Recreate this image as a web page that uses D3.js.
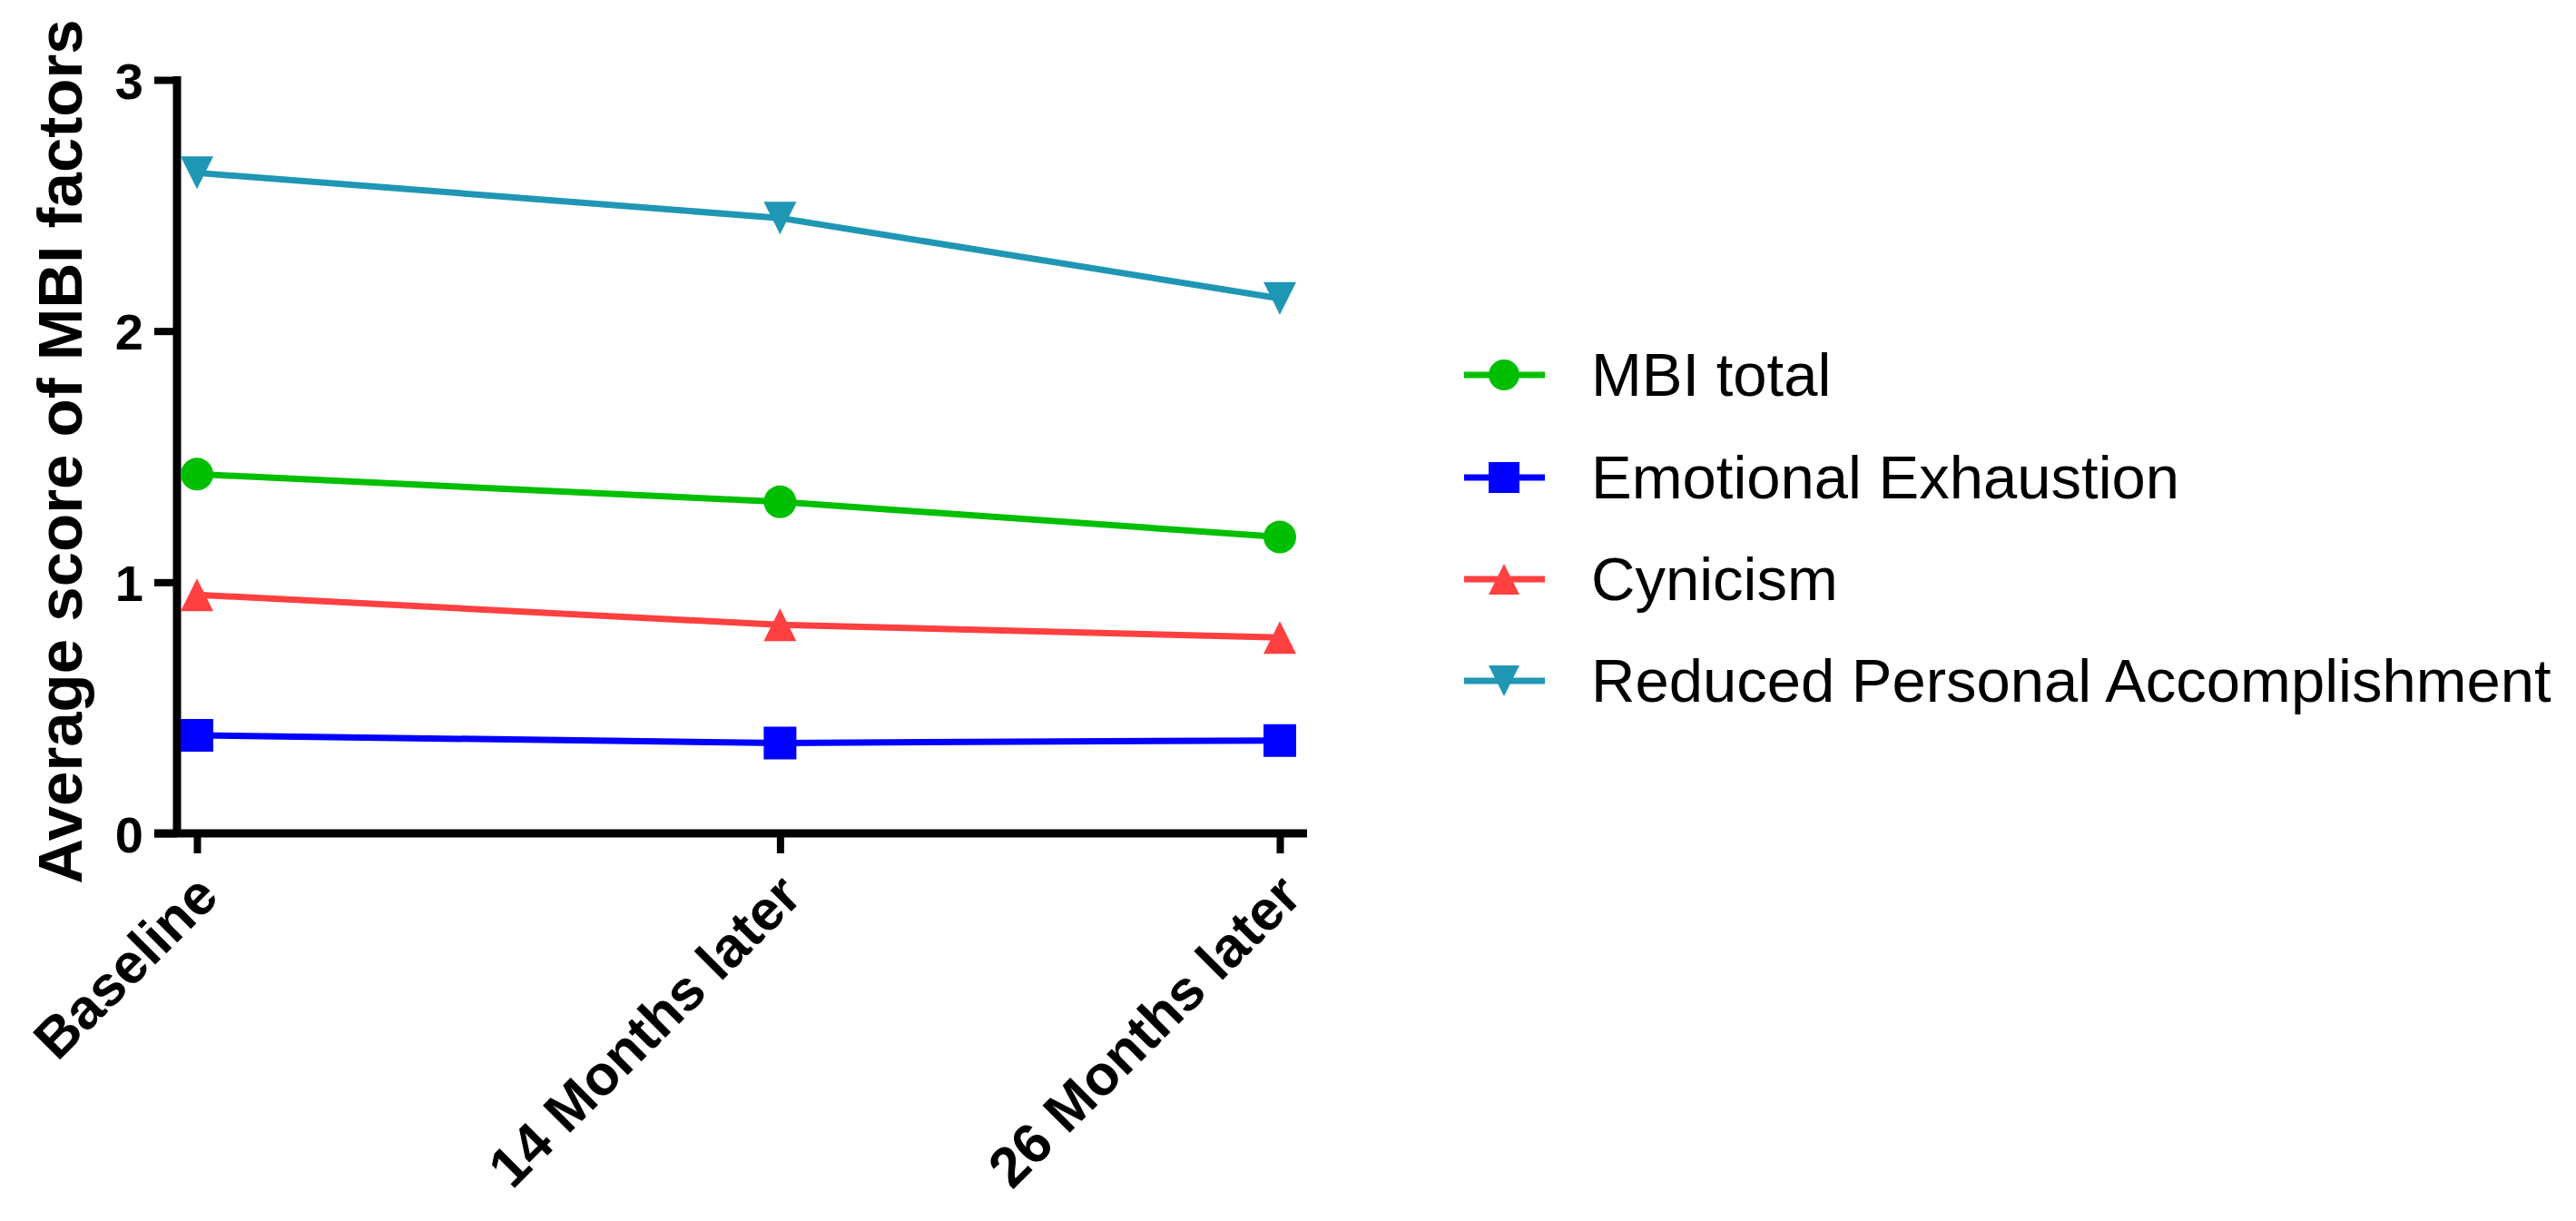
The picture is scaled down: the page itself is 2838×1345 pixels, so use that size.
<!DOCTYPE html>
<html>
<head>
<meta charset="utf-8">
<script src="https://cdn.jsdelivr.net/npm/d3@7"></script>
<style>
  body { margin: 0; background: #fff; }
  svg { display: block; font-family: Arial, "Liberation Sans", sans-serif; }
</style>
</head>
<body>
<div id="chart"></div>
<script>
// data
const months = [0, 14, 26];
const timeLabels = ["Baseline", "14 Months later", "26 Months later"];
const mbiTotal = [1.43, 1.32, 1.18];
const emotionalExhaustion = [0.39, 0.36, 0.37];
const cynicism = [0.95, 0.83, 0.78];
const reducedAccomplishment = [2.63, 2.45, 2.13];
const yTicks = [0, 1, 2, 3];

const seriesNames = ["MBI total", "Emotional Exhaustion", "Cynicism", "Reduced Personal Accomplishment"];
const seriesColors = ["#00bf00", "#0000ff", "#ff4040", "#1f97b4"];
const seriesShapes = ["circle", "square", "triangleUp", "triangleDown"];
const seriesValues = [mbiTotal, emotionalExhaustion, cynicism, reducedAccomplishment];

const width = 2838, height = 1345;

const svg = d3.select("#chart")
  .append("svg")
  .attr("width", width)
  .attr("height", height);

svg.append("rect").attr("width", width).attr("height", height).attr("fill", "#fff");

// x is months since baseline, so the middle point sits off-centre like the original
const x = d3.scaleLinear().domain([0, 26]).range([217, 1410]);
const y = d3.scaleLinear().domain([0, 3]).range([918, 88]);

const axisX0 = 195; // y axis position
const axisEnd = 1440;

// y axis
const yAxis = svg.append("g")
  .attr("transform", `translate(${axisX0},0)`)
  .call(d3.axisLeft(y).tickValues(yTicks).tickFormat(d3.format("d")).tickSize(25).tickPadding(12));
yAxis.select(".domain").remove();
yAxis.selectAll(".tick line").attr("stroke", "#000").attr("stroke-width", 8);
yAxis.selectAll(".tick text")
  .attr("fill", "#000")
  .style("font-size", "56px")
  .style("font-weight", "bold")
  .attr("dy", "0.36em");

// x axis
const xAxis = svg.append("g")
  .attr("transform", `translate(0,${y(0)})`)
  .call(d3.axisBottom(x).tickValues(months).tickFormat((d, i) => timeLabels[i]).tickSize(22));
xAxis.select(".domain").remove();
xAxis.selectAll(".tick line").attr("stroke", "#000").attr("stroke-width", 8);
xAxis.selectAll(".tick text")
  .attr("fill", "#000")
  .attr("y", 0)
  .attr("dy", 0)
  .attr("text-anchor", "end")
  .attr("transform", "translate(26,72) rotate(-45)")
  .style("font-size", "62px")
  .style("font-weight", "bold");

// axis lines
svg.append("line")
  .attr("x1", axisX0).attr("x2", axisX0)
  .attr("y1", y(3) - 4).attr("y2", y(0))
  .attr("stroke", "#000").attr("stroke-width", 9);
svg.append("line")
  .attr("x1", axisX0 - 25).attr("x2", axisEnd)
  .attr("y1", y(0)).attr("y2", y(0))
  .attr("stroke", "#000").attr("stroke-width", 9);

// y axis title
svg.append("text")
  .attr("transform", `translate(90,${(25 + 970) / 2}) rotate(-90)`)
  .attr("text-anchor", "middle")
  .style("font-size", "69px")
  .style("font-weight", "bold")
  .attr("fill", "#000")
  .text("Average score of MBI factors");

function markerPath(shape, s) {
  const h = s / 2;
  if (shape === "square") return `M${-h},${-h}H${h}V${h}H${-h}Z`;
  if (shape === "triangleUp") return `M0,${-h}L${h},${h}L${-h},${h}Z`;
  if (shape === "triangleDown") return `M${-h},${-h}L${h},${-h}L0,${h}Z`;
  return `M${-h},0A${h},${h} 0 1,0 ${h},0A${h},${h} 0 1,0 ${-h},0Z`;
}

const line = d3.line()
  .x((d, i) => x(months[i]))
  .y(d => y(d));

// series
seriesValues.forEach((vals, k) => {
  const g = svg.append("g");
  g.append("path")
    .datum(vals)
    .attr("d", line)
    .attr("fill", "none")
    .attr("stroke", seriesColors[k])
    .attr("stroke-width", 7);
  g.selectAll("path.pt")
    .data(vals)
    .enter()
    .append("path")
    .attr("class", "pt")
    .attr("transform", (d, i) => `translate(${x(months[i])},${y(d)})`)
    .attr("d", markerPath(seriesShapes[k], 36))
    .attr("fill", seriesColors[k]);
});

// legend
const legendRows = [413, 526, 638, 750];
const legend = svg.append("g");
seriesNames.forEach((name, k) => {
  const row = legend.append("g").attr("transform", `translate(0,${legendRows[k]})`);
  row.append("line")
    .attr("x1", 1613).attr("x2", 1702)
    .attr("stroke", seriesColors[k]).attr("stroke-width", 7);
  row.append("path")
    .attr("transform", "translate(1657,0)")
    .attr("d", markerPath(seriesShapes[k], 34))
    .attr("fill", seriesColors[k]);
  row.append("text")
    .attr("x", 1753)
    .attr("dy", "0.35em")
    .style("font-size", "67px")
    .attr("fill", "#000")
    .text(name);
});
</script>
</body>
</html>
